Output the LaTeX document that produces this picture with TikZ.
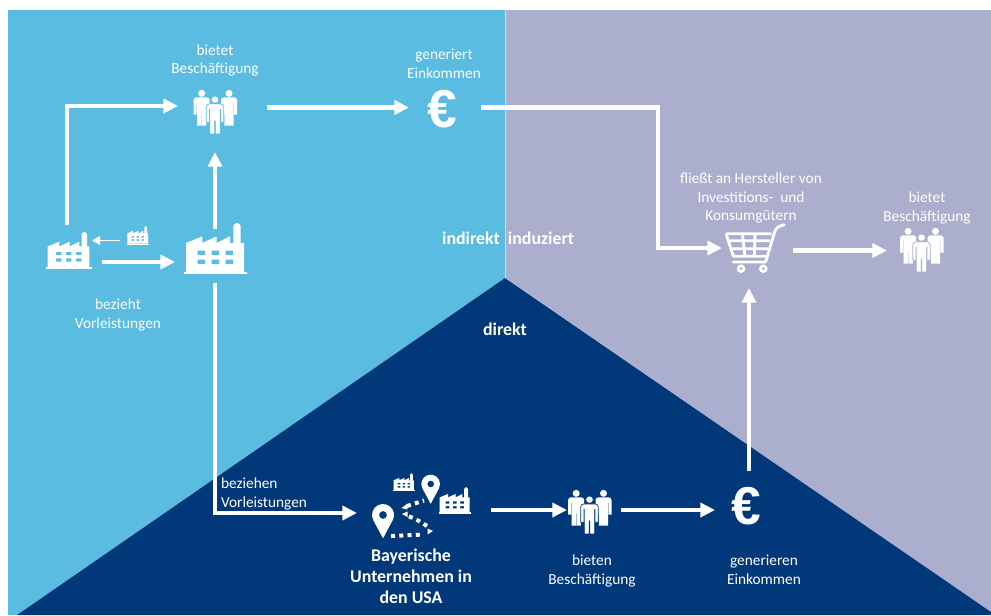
\documentclass[tikz,border=0pt]{standalone}
\usepackage{fontspec}
\setmainfont{Carlito}
\newfontfamily\eurofont{Liberation Sans}
\usetikzlibrary{arrows.meta}

\definecolor{indirectblue}{HTML}{5BBCE2}
\definecolor{inducedgrey}{HTML}{ACAECD}
\definecolor{directnavy}{HTML}{00387A}

\newcommand{\personpath}{(-24,64) -- (-24,20) .. controls (-24,15) and (-20,12) .. (-15,12) -- (15,12) .. controls (20,12) and (24,15) .. (24,20) -- (24,64) -- (15,64) -- (15,28) -- (14,28) -- (14,97) -- (.7,97) -- (.7,60) -- (-.7,60) -- (-.7,97) -- (-14,97) -- (-14,28) -- (-15,28) -- (-15,64) -- cycle (0,0) circle (10.5)}

\tikzset{
factory/.pic={
\fill[white,even odd rule] (-89,72) -- (-89,-15) -- (-40,-35) -- (-40,-15) -- (3,-35) -- (3,-15) -- (43,-35) -- (43,-15) -- (53,-15) -- (53,-64) arc (180:360:11) -- (75,-15) -- (85,-15) -- (85,72) -- cycle
\foreach \wx in {-54,-12,30}{\foreach \wy in {8,35}{(\wx,\wy) rectangle ++(22,13)}};
\fill[white] (-95,72) rectangle (95,78);
},
pics/people/.style={code={
\fill[white,shift={(-40,-47)}] \personpath;
\fill[white,shift={(42,-47)}] \personpath;
\filldraw[draw=#1,fill=white,line width=.5pt,shift={(0,-28)},xscale=1.1,yscale=1.06] \personpath;
}},
pin/.pic={
\fill[white,even odd rule] (0,70) -- (-29.1,15.6) arc (151.8:388.2:33) -- cycle (0,0) circle (12);
},
cart/.pic={
\draw[white,line width=2.1pt,line join=round] (-87,-43) -- (50,-43) (-87,-43) -- (-65,25) -- (35,25) (-80,-22) -- (45,-22) (-73,2) -- (40,2) (-38,-43) -- (-30,25) (0,-43) -- (-2,25);
\draw[white,line width=2.1pt,line cap=round,line join=round] (88,-70) .. controls (70,-65) and (62,-62) .. (58,-45) -- (32,42) -- (-65,42);
\fill[white,even odd rule] (-42,62) circle (13) (-42,62) circle (5) (25,62) circle (13) (25,62) circle (5);
},
}

\begin{document}
\begin{tikzpicture}[x=.75pt,y=-.75pt,
every node/.style={
align=center,
text=white,
inner sep=0pt,
outer sep=0pt,
font=\fontsize{11.5}{13.9}\selectfont,
},
boldlabel/.style={
font=\fontsize{13.4}{15.6}\selectfont\bfseries,
},
eurosign/.style={
font=\fontsize{40}{40}\eurofont\bfseries,
},
iconbox/.style 2 args={
minimum width=#1*.75pt,
minimum height=#2*.75pt,
},
flow/.style={
draw=white,
line width=3.6pt,
-{Triangle[length=11pt,width=10.5pt]},
},
thinflow/.style={
draw=white,
line width=1pt,
-{Triangle[length=6pt,width=6.5pt]},
},
route/.style={
draw=white,
line width=3pt,
dash pattern=on 3pt off 3.2pt,
}]
\useasboundingbox (0,0) rectangle (991,615);

%sectors
\fill[white] (0,0) rectangle (991,615);
\fill[indirectblue] (8,10) -- (505,10) -- (505,278) -- (17,615) -- (8,615) -- cycle;
\fill[inducedgrey] (505.7,10) -- (991,10) -- (991,612) -- (505.7,278) -- cycle;
\fill[directnavy] (505,278) -- (991,612) -- (991,615) -- (17,615) -- cycle;

%sector names
\node[boldlabel] (indirektlabel) at (471,238) {indirekt};
\node[boldlabel] (induziertlabel) at (541,238) {induziert};
\node[boldlabel] (direktlabel) at (505,329) {direkt};

%icon boxes, the arrows end on their borders
\node[iconbox={70}{74}] (factoryA) at (67,262) {};
\node[iconbox={36}{20}] (smallfactory) at (138,240.5) {};
\node[iconbox={80}{54}] (factoryB) at (215,256) {};
\node[iconbox={74}{92}] (peopleA) at (215,106) {};
\node[iconbox={72}{40}] (euroA) at (445,107.5) {};
\node[iconbox={54}{80}] (cart) at (749,248) {};
\node[iconbox={68}{46}] (peopleC) at (921,250.5) {};
\node[iconbox={134}{60}] (usgroup) at (424,510) {};
\node[iconbox={53.5}{44}] (peopleB) at (593.75,510) {};
\node[iconbox={68}{78}] (euroB) at (749,510) {};

\coordinate (factoryAin) at (92,240.5);
\coordinate (factoryAout) at (102,262);
\coordinate (peopleAout) at (267,107.5);
\coordinate (turnA) at (658,248);
\coordinate (cartout) at (793,250.5);
\coordinate (usgroupin) at (357,513);

%icons
\pic[scale=.72/3] at (69,250) {factory};
\pic[scale=.36/3] at (138,235) {factory};
\pic[scale=1/3] at (215.7,248) {factory};
\pic[scale=.35/3] at (404,482) {factory};
\pic[scale=.52/3] at (455,500) {factory};
\pic[scale=1/3] at (215,109) {people=indirectblue};
\pic[scale=1/3] at (921.5,247) {people=inducedgrey};
\pic[scale=1/3] at (589.5,509) {people=directnavy};
\pic[scale=1/3] at (755,248) {cart};
\pic[scale=1/3] at (383,515) {pin};
\pic[scale=.283] at (430.7,484) {pin};
%route between the pins
\draw[route] (391,536) -- (424,534.5);
\draw[route] (427,526) .. controls (421,522) and (416,519) .. (408,516);
\draw[route] (407,506) -- (424,500.5);
\fill[white] (433,531) -- (427.5,528.5) -- (427.5,534.5) -- cycle;
\fill[white] (402,514) -- (407.5,511.5) -- (407.5,517) -- cycle;
\fill[white] (401.5,508) -- (407,504) -- (407.5,509.5) -- cycle;
\node[eurosign] (euroAsign) at (442.5,109) {€};
\node[eurosign] (euroBsign) at (746,506) {€};

%arrows
\draw[flow] (factoryA.north) |- (peopleA.west);
\draw[flow] (factoryAout) -- (factoryAout -| factoryB.west);
\draw[thinflow] (smallfactory.west) -- (factoryAin);
\draw[flow] (factoryB.north) -- (peopleA.south);
\draw[flow] (factoryB.south) |- (usgroupin);
\draw[flow] (peopleAout) -- (euroA.west);
\draw[flow] (euroA.east) -| (turnA) -- (cart.west);
\draw[flow] (cartout) -- (peopleC.west);
\draw[flow] (euroB.north) -- (cart.south);
\draw[flow] (usgroup.east) -- (peopleB.west);
\draw[flow] (peopleB.east) -- (euroB.west);

%labels
\node (bietetA) at (215,60.5) {bietet\\Beschäftigung};
\node (generiert) at (444,64) {generiert\\Einkommen};
\node (bezieht) at (118,315) {bezieht\\Vorleistungen};
\node[align=left,anchor=west] (beziehen) at (221,494) {beziehen\\Vorleistungen};
\node[boldlabel] (usname) at (411,576) {Bayerische\\Unternehmen in\\den USA};
\node (bieten) at (592,571) {bieten\\Beschäftigung};
\node (generieren) at (764,569.5) {generieren\\Einkommen};
\node (fliesst) at (751,198) {fließt an Hersteller von\\Investitions-\ \ und\\Konsumgütern};
\node (bietetC) at (927,208) {bietet\\Beschäftigung};
\end{tikzpicture}
\end{document}
